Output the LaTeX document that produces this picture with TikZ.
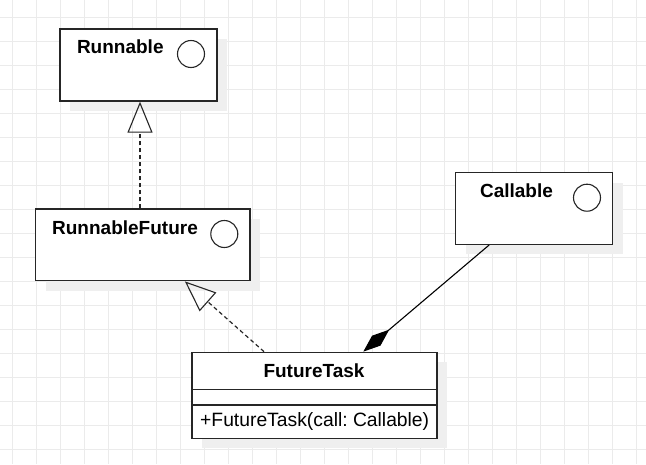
\documentclass[tikz,border=0pt]{standalone}
\usepackage{fontspec}
\setmainfont{Liberation Sans}
\usetikzlibrary{arrows.meta,shadows,calc}
\definecolor{gridc}{HTML}{EBEBEB}
\definecolor{linec}{HTML}{262626}
\definecolor{shadc}{HTML}{EFEFEF}
\frenchspacing
\tikzset{
  umlbox/.style={draw=linec, line width=1.3pt, fill=white, rectangle, inner sep=0pt,
    drop shadow={shadow xshift=10pt, shadow yshift=-10pt, fill=shadc, opacity=1}},
  ifacecirc/.style={draw=linec, line width=1.1pt, circle, inner sep=0pt, minimum size=27pt},
  titletxt/.style={anchor=base, inner sep=0pt, font=\fontsize{19}{22}\selectfont\bfseries},
  plaintxt/.style={anchor=base west, inner sep=0pt, font=\fontsize{19.3}{22}\selectfont},
  realize/.style={draw=linec, line width=1.2pt, dash pattern=on 4pt off 3pt,
    -{Triangle[open, length=31pt, width=25pt, line width=1.1pt]}},
  compose/.style={draw=black, line width=1.1pt, -{Diamond[length=34pt, width=13pt]}},
}
\begin{document}
\begin{tikzpicture}[x=1pt, y=-1pt]
\useasboundingbox (0,0) rectangle (646,464);
\fill[white] (0,0) rectangle (646,464);
% grid
\foreach \gx in {12.7,36.7,...,646} \draw[gridc, line width=1pt] (\gx,0) -- (\gx,464);
\foreach \gy in {17,41,...,464} \draw[gridc, line width=1pt] (0,\gy) -- (646,\gy);

% Runnable
\node[umlbox, minimum width=157pt, minimum height=72pt] (r) at (138.5,65) {};
\node[titletxt] (rt) at (120.3,53.3) {Runnable};
\node[ifacecirc] (rc) at (191,54) {};

% RunnableFuture
\node[umlbox, minimum width=214.3pt, minimum height=71.7pt] (rf) at (142.85,244.85) {};
\node[titletxt] (rft) at (125,234) {RunnableFuture};
\node[ifacecirc] (rfc) at (224.3,234) {};

% Callable
\node[umlbox, minimum width=157pt, minimum height=71.6pt] (c) at (534.2,208.5) {};
\node[titletxt] (ct) at (516.5,197.3) {Callable};
\node[ifacecirc] (cc) at (587,197.7) {};

% FutureTask
\node[umlbox, minimum width=245pt, minimum height=86pt] (ft) at (314.5,395.3) {};
\draw[linec, line width=1.3pt] ([yshift=-38pt]ft.north west) -- ([yshift=-38pt]ft.north east);
\draw[linec, line width=1.3pt] ([yshift=-53.4pt]ft.north west) -- ([yshift=-53.4pt]ft.north east);
\node[titletxt] (ftt) at (314,377.3) {FutureTask};
\node[plaintxt] (ftm) at (200,426.7) {+FutureTask(call: Callable)};

% connectors
\draw[realize] ([xshift=-2.85pt]rf.north) -- ([xshift=1.5pt]r.south);
\draw[realize] ([xshift=-50.5pt]ft.north) -- ([xshift=42pt]rf.south);
\draw[compose] ([xshift=-45pt]c.south) -- ([xshift=48.8pt]ft.north);
\end{tikzpicture}
\end{document}
